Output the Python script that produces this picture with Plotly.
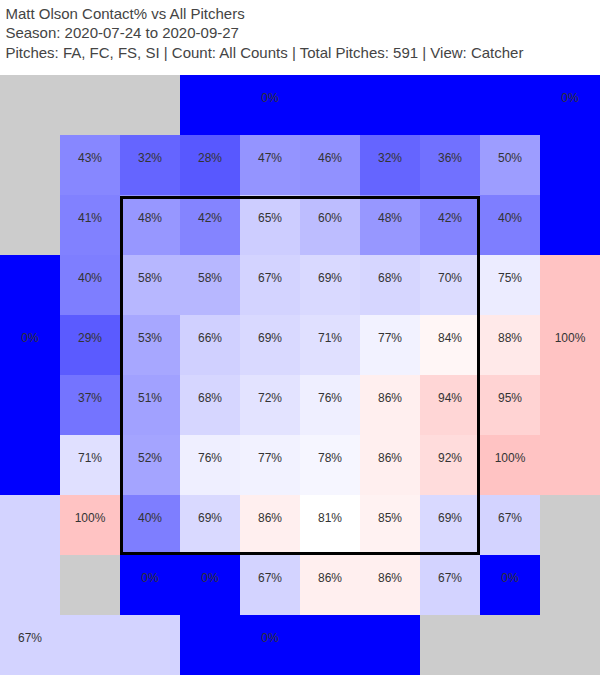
import numpy as np
import plotly.graph_objects as go

# contact% per zone, rows top->bottom, cols left->right (catcher view), None = no pitches
row0 = [None, None, None, 0, 0, 0, 0, 0, 0, 0]
row1 = [None, 43, 32, 28, 47, 46, 32, 36, 50, 0]
row2 = [None, 41, 48, 42, 65, 60, 48, 42, 40, 0]
row3 = [0, 40, 58, 58, 67, 69, 68, 70, 75, 100]
row4 = [0, 29, 53, 66, 69, 71, 77, 84, 88, 100]
row5 = [0, 37, 51, 68, 72, 76, 86, 94, 95, 100]
row6 = [0, 71, 52, 76, 77, 78, 86, 92, 100, 100]
row7 = [67, 100, 40, 69, 86, 81, 85, 69, 67, None]
row8 = [67, None, 0, 0, 67, 86, 86, 67, 0, None]
row9 = [67, 67, 67, 0, 0, 0, 0, None, None, None]

# outer zones only get a label in one cell
label_off = {(0, 3), (0, 5), (0, 6), (0, 7), (0, 8), (1, 9), (2, 9),
             (3, 0), (5, 0), (6, 0), (3, 9), (5, 9), (6, 9),
             (7, 0), (8, 0), (9, 1), (9, 2), (9, 3), (9, 5), (9, 6)}

z = [row0, row1, row2, row3, row4, row5, row6, row7, row8, row9]
zz = np.array([[np.nan if v is None else v for v in r] for r in z], dtype=float)

tx, ty, tt = [], [], []
for i, r in enumerate(z):
    for j, v in enumerate(r):
        if v is None or (i, j) in label_off:
            continue
        tx.append(j)
        ty.append(i)
        tt.append(f"{v}%")

league_avg = 81

fig = go.Figure()
fig.add_trace(go.Heatmap(z=zz, x=list(range(10)), y=list(range(10)),
                         colorscale=[[0, 'rgb(0,0,255)'], [0.5, 'rgb(255,255,255)'], [1, 'rgb(255,0,0)']],
                         zmin=0, zmax=2 * league_avg, showscale=False, hoverinfo='none'))
fig.add_trace(go.Scatter(x=tx, y=ty, text=tt, mode='text', textposition='top center',
                         textfont=dict(family='Arial, Liberation Sans', size=12, color='#333'),
                         hoverinfo='none', showlegend=False))

# strike zone
fig.add_shape(type='rect', x0=1.525, x1=7.475, y0=1.542, y1=7.475,
              line=dict(color='black', width=3))

fig.update_layout(
    width=600, height=675,
    margin=dict(l=0, r=0, t=75, b=0),
    plot_bgcolor='#cccccc', paper_bgcolor='white',
    title=dict(text='Matt Olson Contact% vs All Pitchers<br>Season: 2020-07-24 to 2020-09-27<br>'
                    'Pitches: FA, FC, FS, SI | Count: All Counts | Total Pitches: 591 | View: Catcher',
               x=0.009, xanchor='left', y=0.972, yanchor='top',
               font=dict(family='Arial, Liberation Sans', size=15, color='#444')),
    xaxis=dict(range=[-0.5, 9.5], visible=False, fixedrange=True),
    yaxis=dict(range=[9.5, -0.5], visible=False, fixedrange=True),
    showlegend=False,
)

fig.write_html("out.html", config={'displayModeBar': False},
               post_script="document.body.style.margin='0';Plotly.Plots.resize(document.getElementById('{plot_id}'));")
